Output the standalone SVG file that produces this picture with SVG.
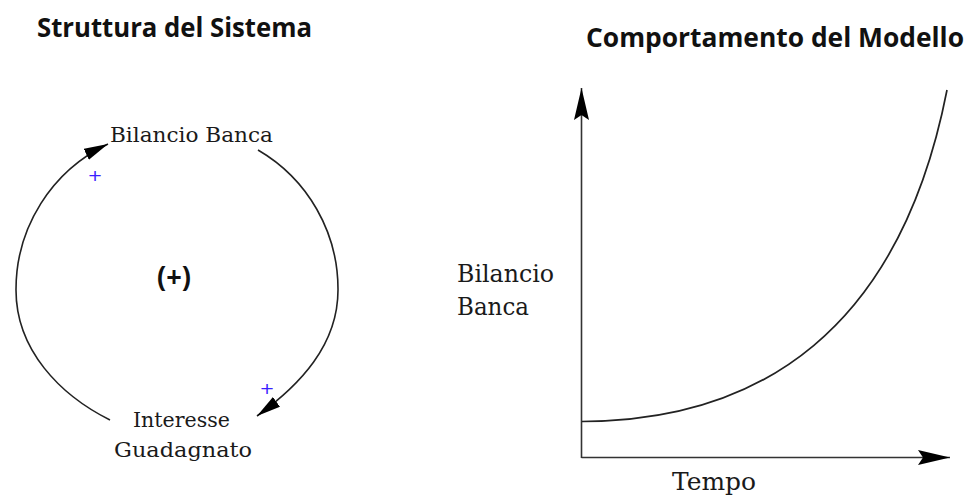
<svg xmlns="http://www.w3.org/2000/svg" width="972" height="500" viewBox="0 0 972 500">
  <style>
    .title { font-family: "Open Sans", "Liberation Sans", sans-serif; font-weight: bold; font-size: 26px; fill: #111; }
    .loop { font-family: "Open Sans", "Liberation Sans", sans-serif; font-weight: bold; font-size: 28px; fill: #111; }
    .lbl { font-family: "DejaVu Serif", "Liberation Serif", serif; fill: #1a1a1a; }
    .pol { font-family: "DejaVu Sans", "Liberation Sans", sans-serif; font-size: 16px; fill: #3a1fff; }
    .link { fill: none; stroke: #222; stroke-width: 1.6; }
    .axis { fill: none; stroke: #333; stroke-width: 1.6; }
    .curve { fill: none; stroke: #222; stroke-width: 1.7; }
  </style>
  <defs>
    <marker id="loopArrow" markerUnits="userSpaceOnUse" markerWidth="26" markerHeight="14" refX="24" refY="6" orient="auto">
      <path d="M0,0 L24,6 L0,12 Z" fill="#000"/>
    </marker>
    <marker id="axisArrow" markerUnits="userSpaceOnUse" markerWidth="34" markerHeight="18" refX="32" refY="8" orient="auto">
      <path d="M0,0.5 L32,8 L0,15.5 L5,8 Z" fill="#000"/>
    </marker>
  </defs>

  <rect width="972" height="500" fill="#fff"/>

  <g id="title-left">
    <text class="title" x="37" y="37" textLength="275" lengthAdjust="spacingAndGlyphs">Struttura del Sistema</text>
  </g>
  <g id="title-right">
    <text class="title" x="586" y="47" textLength="378" lengthAdjust="spacingAndGlyphs">Comportamento del Modello</text>
  </g>

  <g id="node-bilancio">
    <text class="lbl" x="110" y="142" font-size="20" textLength="163" lengthAdjust="spacingAndGlyphs">Bilancio Banca</text>
  </g>
  <g id="node-interesse">
    <text class="lbl" x="133" y="427" font-size="21" textLength="97" lengthAdjust="spacingAndGlyphs">Interesse</text>
    <text class="lbl" x="114" y="457" font-size="21" textLength="138" lengthAdjust="spacingAndGlyphs">Guadagnato</text>
  </g>
  <g id="loop-polarity">
    <text class="loop" x="157" y="287" textLength="34" lengthAdjust="spacingAndGlyphs">(+)</text>
  </g>

  <g id="connectors">
    <path class="link" d="M110,420 C60,395 16,350 16,290 A161,161 0 0 1 108,144" marker-end="url(#loopArrow)"/>
    <path class="link" d="M258,150 A161,161 0 0 1 338,290 C338,345 300,385 257,416" marker-end="url(#loopArrow)"/>
    <text class="pol" x="95" y="181" text-anchor="middle" textLength="15" lengthAdjust="spacingAndGlyphs">+</text>
    <text class="pol" x="267" y="394" text-anchor="middle" textLength="15" lengthAdjust="spacingAndGlyphs">+</text>
  </g>

  <g id="graph">
    <path class="axis" d="M581.5,458 L581.5,88" marker-end="url(#axisArrow)"/>
    <path class="axis" d="M581.5,457.5 L950,457.5" marker-end="url(#axisArrow)"/>
    <path class="curve" d="M582,421.5 C760,421 900,330 947,90"/>
    <text class="lbl" x="457" y="282" font-size="24" textLength="97" lengthAdjust="spacingAndGlyphs">Bilancio</text>
    <text class="lbl" x="457" y="315" font-size="24" textLength="72" lengthAdjust="spacingAndGlyphs">Banca</text>
    <text class="lbl" x="672" y="490" font-size="24" textLength="84" lengthAdjust="spacingAndGlyphs">Tempo</text>
  </g>
</svg>
